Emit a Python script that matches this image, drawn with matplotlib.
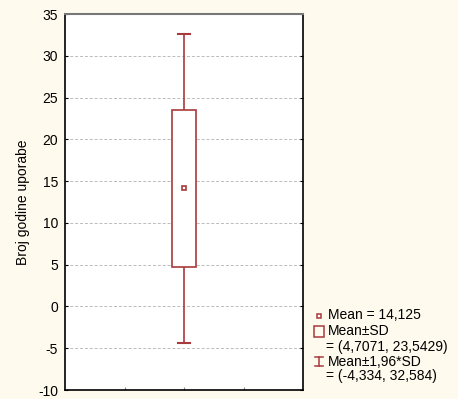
import matplotlib.pyplot as plt
from matplotlib.patches import Rectangle
from matplotlib.lines import Line2D

plt.rcParams['font.family'] = ['Liberation Sans', 'DejaVu Sans']

mean = 14.125
sd_low, sd_high = 4.7071, 23.5429
ci_low, ci_high = -4.334, 32.584
y_ticks = [-10, -5, 0, 5, 10, 15, 20, 25, 30, 35]
y_label = "Broj godine uporabe"
legend_lines = ["Mean = 14,125", "Mean\u00b1SD", "= (4,7071, 23,5429)",
                "Mean\u00b11,96*SD", "= (-4,334, 32,584)"]

red = "#A8393C"
bg = "#FFFAEE"

fig = plt.figure(figsize=(4.58, 3.99), dpi=100, facecolor=bg)
ax = fig.add_axes([65 / 458, 9 / 399, 238 / 458, 376 / 399])

# whiskers
x0 = 0.5
ax.plot([x0, x0], [sd_high, ci_high], color=red, lw=1.2)
ax.plot([x0, x0], [ci_low, sd_low], color=red, lw=1.2)
ax.plot([x0 - 0.025, x0 + 0.025], [ci_high, ci_high], color=red, lw=1.5)
ax.plot([x0 - 0.025, x0 + 0.025], [ci_low, ci_low], color=red, lw=1.5)

# box
bw = 0.1
ax.add_patch(Rectangle((x0 - bw / 2, sd_low), bw, sd_high - sd_low,
                       facecolor="white", edgecolor=red, lw=1.2, zorder=3))
ax.plot([x0], [mean], marker="s", ms=3.5, mfc="white", mec=red, mew=1.2, zorder=4)

ax.set_xlim(0, 1)
ax.set_ylim(-10, 35)
ax.set_yticks(y_ticks)
ax.set_yticklabels([str(t) for t in y_ticks], fontsize=10)
ax.set_xticks([0.25, 0.5, 0.75])
ax.set_xticklabels([])
ax.tick_params(axis="x", direction="in", length=2, color="#888888")
ax.tick_params(axis="y", direction="in", length=2, right=True, pad=5)
for t in y_ticks[1:-1]:
    ax.axhline(t, color="#BBBBBB", lw=0.7, ls=(0, (3, 2)), zorder=0)
ax.set_ylabel(y_label, fontsize=10, labelpad=6)
ax.spines["top"].set_color("#777777")
ax.spines["top"].set_linewidth(1.5)
for s in ["left", "bottom", "right"]:
    ax.spines[s].set_linewidth(1.2)

# legend drawn in figure pixels
W, H = 458, 399
def fx(px):
    return px / W
def fy(py):
    return 1 - py / H

text_x = [328, 328, 326, 328, 326]
text_y = [315, 331, 347, 362, 376]
for s, tx, ty in zip(legend_lines, text_x, text_y):
    fig.text(fx(tx), fy(ty), s, fontsize=10, va="center", ha="left")

fig.add_artist(Line2D([fx(319)], [fy(316)], marker="s", ms=3, mfc="white",
                      mec=red, mew=1.1))
fig.add_artist(Rectangle((fx(314), fy(337)), 10 / W, 11 / H, facecolor="none",
                         edgecolor=red, lw=1.1))
fig.add_artist(Line2D([fx(319), fx(319)], [fy(357), fy(366)], color=red, lw=1.1))
fig.add_artist(Line2D([fx(315), fx(323)], [fy(357), fy(357)], color=red, lw=1.1))
fig.add_artist(Line2D([fx(315), fx(323)], [fy(366), fy(366)], color=red, lw=1.1))

fig.savefig("out.png", dpi=100, facecolor=bg)
